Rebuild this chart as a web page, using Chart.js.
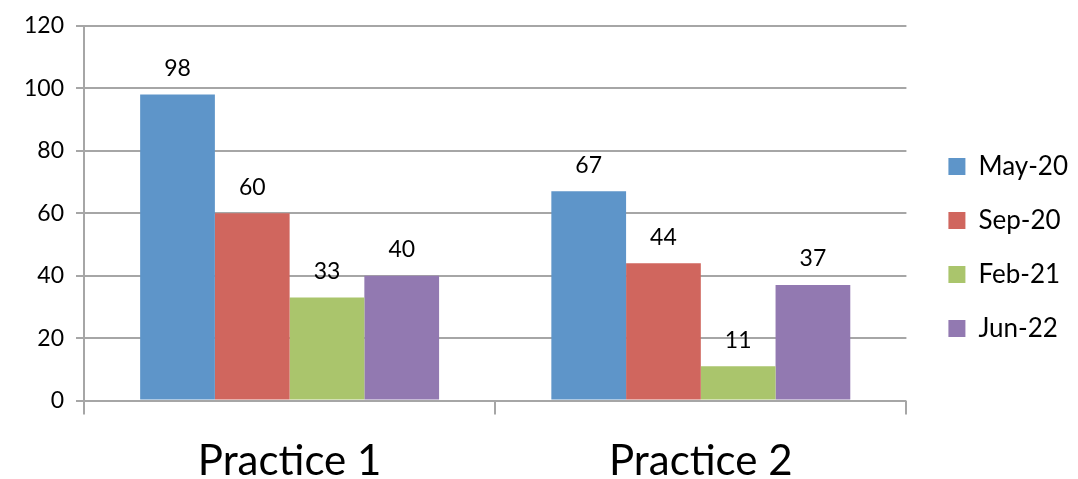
<!DOCTYPE html>
<html><head><meta charset="utf-8">
<script src="https://cdn.jsdelivr.net/npm/chart.js@4"></script>
<style>html,body{margin:0;padding:0;background:#fff;}#wrap{width:1078px;height:479px;position:relative;}</style>
</head><body><div id="wrap"><canvas id="c" width="1078" height="479"></canvas></div>
<script>
const categories = ["Practice 1", "Practice 2"];
const seriesNames = ["May-20", "Sep-20", "Feb-21", "Jun-22"];
const may20 = [98, 67];
const sep20 = [60, 44];
const feb21 = [33, 11];
const jun22 = [40, 37];
const yTicks = [0, 20, 40, 60, 80, 100, 120];
const colors = ["#5E95C9", "#D0665E", "#AAC56C", "#9279B1"];

const FONT = "Lato, 'Open Sans', sans-serif";
const valueLabels = {
  id: 'valueLabels',
  afterDatasetsDraw(chart) {
    const ctx = chart.ctx;
    ctx.save();
    ctx.font = "23px " + FONT;
    ctx.fillStyle = "#000";
    ctx.textAlign = "center";
    ctx.textBaseline = "middle";
    chart.data.datasets.forEach((ds, i) => {
      chart.getDatasetMeta(i).data.forEach((bar, j) => {
        ctx.fillText(String(ds.data[j]), bar.x, bar.y - 26);
      });
    });
    ctx.restore();
  }
};
const legendShift = {
  id: 'legendShift',
  afterLayout(chart) {
    const lg = chart.legend;
    if (lg) { lg.left += 14; lg.right += 14; lg.top -= 12; lg.bottom -= 12; }
  }
};

const arrs = [may20, sep20, feb21, jun22];
new Chart(document.getElementById('c'), {
  type: 'bar',
  data: {
    labels: categories,
    datasets: seriesNames.map((n, i) => ({
      label: n, data: arrs[i], backgroundColor: colors[i],
      categoryPercentage: 0.727, barPercentage: 1.0, borderWidth: 0
    }))
  },
  plugins: [valueLabels, legendShift],
  options: {
    responsive: false, animation: false,
    layout: { padding: { top: 10, left: 12, right: 14, bottom: -30 } },
    plugins: {
      tooltip: { enabled: false },
      legend: {
        position: 'right',
        labels: { boxWidth: 17, boxHeight: 17, padding: 28, color: '#000',
          font: { family: FONT, size: 26 } }
      }
    },
    scales: {
      x: {
        grid: { display: true, drawOnChartArea: false, offset: true, tickLength: 14, color: '#a6a6a6', lineWidth: 2 },
        border: { display: false },
        ticks: { color: '#000', font: { family: FONT, size: 42 }, padding: 22 }
      },
      y: {
        min: 0, max: 120,
        afterBuildTicks(scale) { scale.ticks = yTicks.map(v => ({ value: v })); },
        grid: { color: '#a6a6a6', lineWidth: 2, tickLength: 8 },
        border: { display: true, color: '#a6a6a6', width: 2 },
        ticks: { color: '#000', font: { family: FONT, size: 23 }, padding: 12 }
      }
    }
  }
});
</script></body></html>
